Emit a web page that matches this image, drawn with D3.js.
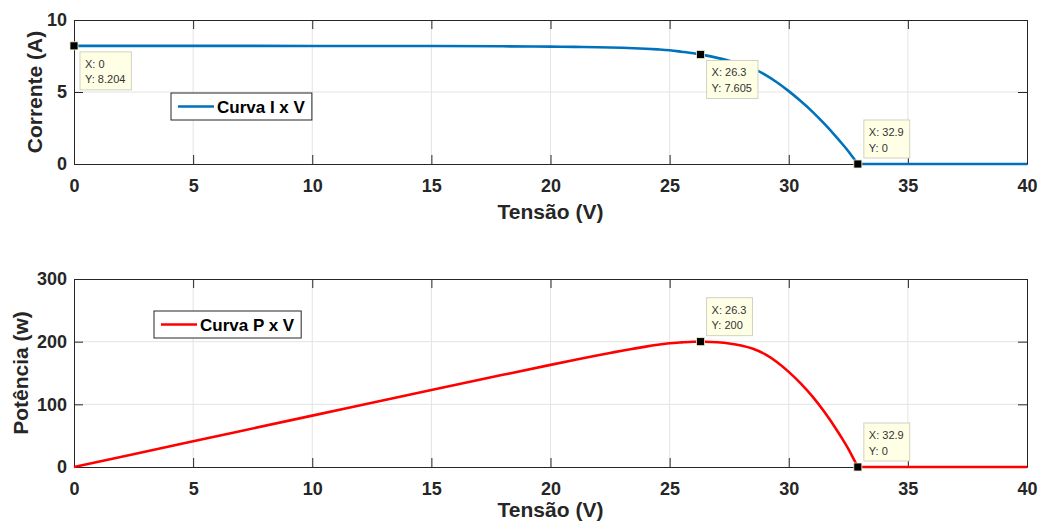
<!DOCTYPE html>
<html>
<head>
    <title>Curvas I x V e P x V</title>
    <script src="https://d3js.org/d3.v7.min.js"></script>
    <style>
        body {
            margin: 0;
            background: #fff;
            font-family: "Liberation Sans", Arial, sans-serif;
        }
        .tick text {
            font-size: 18px;
            font-weight: bold;
            fill: #262626;
        }
        .tick line, .domain {
            stroke: #262626;
        }
        .axis-label {
            font-size: 21px;
            font-weight: bold;
            fill: #262626;
        }
        .legend-text {
            font-size: 17px;
            font-weight: bold;
            fill: #000;
        }
        .tip-text {
            font-size: 11px;
            fill: #333;
        }
    </style>
</head>
<body>
    <div id="chart"></div>
    <script>
        // valores
        const tensao   = [0, 5, 10, 15, 18, 20, 21, 22, 22.5, 23, 23.5, 24, 24.5, 25, 25.5, 26, 26.3, 26.5, 27, 27.5, 28, 28.5, 29, 29.5, 30, 30.5, 31, 31.5, 32, 32.25, 32.5, 32.7, 32.9, 33, 35, 40];
        const corrente = [8.204, 8.202, 8.198, 8.19, 8.172, 8.15, 8.132, 8.107, 8.09, 8.068, 8.04, 8.005, 7.96, 7.90, 7.80, 7.69, 7.605, 7.545, 7.37, 7.17, 6.93, 6.62, 6.21, 5.68, 5.06, 4.37, 3.62, 2.78, 1.87, 1.39, 0.89, 0.45, 0, 0, 0, 0];
        const potencia = [0, 41.0, 82.0, 122.9, 147.1, 163.0, 170.8, 178.4, 182.0, 185.6, 188.9, 192.1, 195.0, 197.5, 198.9, 199.9, 200.0, 199.9, 199.0, 197.2, 194.0, 188.7, 180.1, 167.6, 151.8, 133.3, 112.2, 87.6, 59.8, 44.8, 28.9, 14.7, 0, 0, 0, 0];

        const xTicks = [0, 5, 10, 15, 20, 25, 30, 35, 40];
        const yTicksI = [0, 5, 10];
        const yTicksP = [0, 100, 200, 300];

        const tipsI = [{ x: 0, y: 8.204 }, { x: 26.3, y: 7.605 }, { x: 32.9, y: 0 }];
        const tipsP = [{ x: 26.3, y: 200 }, { x: 32.9, y: 0 }];

        const width = 1043, height = 525;
        const left = 74, right = 1027;

        const svg = d3.select("#chart")
            .append("svg")
            .attr("width", width)
            .attr("height", height);

        const x = d3.scaleLinear().domain([0, 40]).range([left, right]);

        function drawPanel(opts) {
            const y = d3.scaleLinear().domain(opts.yDomain).range([opts.bottom, opts.top]);
            const g = svg.append("g");

            // grid
            g.selectAll(".gx")
                .data(xTicks.slice(1, -1))
                .enter()
                .append("line")
                .attr("x1", d => x(d)).attr("x2", d => x(d))
                .attr("y1", opts.top).attr("y2", opts.bottom)
                .attr("stroke", "#e3e3e3");
            g.selectAll(".gy")
                .data(opts.yTicks.slice(1, -1))
                .enter()
                .append("line")
                .attr("x1", left).attr("x2", right)
                .attr("y1", d => y(d)).attr("y2", d => y(d))
                .attr("stroke", "#e3e3e3");

            // eixos (ticks para dentro, caixa fechada)
            g.append("g")
                .attr("transform", `translate(0,${opts.bottom})`)
                .call(d3.axisBottom(x).tickValues(xTicks).tickSize(-9).tickSizeOuter(0).tickPadding(15));
            g.append("g")
                .attr("transform", `translate(0,${opts.top})`)
                .call(d3.axisTop(x).tickValues(xTicks).tickSize(-9).tickSizeOuter(0).tickFormat(""));
            g.append("g")
                .attr("transform", `translate(${left},0)`)
                .call(d3.axisLeft(y).tickValues(opts.yTicks).tickSize(-9).tickSizeOuter(0).tickPadding(7));
            g.append("g")
                .attr("transform", `translate(${right},0)`)
                .call(d3.axisRight(y).tickValues(opts.yTicks).tickSize(-9).tickSizeOuter(0).tickFormat(""));

            // labels
            g.append("text")
                .attr("class", "axis-label")
                .attr("x", (left + right) / 2)
                .attr("y", opts.bottom + opts.xLabelDy)
                .attr("text-anchor", "middle")
                .text("Tensão (V)");
            g.append("text")
                .attr("class", "axis-label")
                .attr("transform", `translate(${opts.yLabelX},${(opts.top + opts.bottom) / 2}) rotate(-90)`)
                .attr("text-anchor", "middle")
                .text(opts.yLabel);

            // curva: parte curva suavizada, trecho em zero reto
            const pts = tensao.map((v, i) => [v, opts.values[i]]);
            const k = pts.findIndex(p => p[1] === 0 && p[0] > 0);
            const smooth = d3.line()
                .x(d => x(d[0]))
                .y(d => y(d[1]))
                .curve(d3.curveMonotoneX);
            const straight = d3.line()
                .x(d => x(d[0]))
                .y(d => y(d[1]));
            g.append("path")
                .attr("fill", "none")
                .attr("stroke", opts.color)
                .attr("stroke-width", 2.6)
                .attr("stroke-linejoin", "round")
                .attr("d", smooth(pts.slice(0, k + 1)) + straight(pts.slice(k)).replace("M", "L"));

            // legenda
            const lg = g.append("g").attr("transform", `translate(${opts.legend[0]},${opts.legend[1]})`);
            const lgText = lg.append("text")
                .attr("class", "legend-text")
                .attr("x", 46)
                .attr("y", 19.5)
                .text(opts.legendText);
            const tw = lgText.node().getComputedTextLength();
            lg.insert("rect", "text")
                .attr("width", tw + 53)
                .attr("height", 27)
                .attr("fill", "#fff")
                .attr("stroke", "#262626")
                .attr("stroke-width", 1);
            lg.append("line")
                .attr("x1", 7).attr("x2", 43)
                .attr("y1", 13.5).attr("y2", 13.5)
                .attr("stroke", opts.color)
                .attr("stroke-width", 2.6);

            // data tips
            opts.tips.forEach((t, i) => {
                const px = x(t.x), py = y(t.y);
                const below = opts.tipBelow[i];
                const tg = g.append("g");
                const by = below ? py + 6 : py - 44;
                const t1 = tg.append("text").attr("class", "tip-text")
                    .attr("x", px + 11).attr("y", by + 16).text("X: " + t.x);
                const t2 = tg.append("text").attr("class", "tip-text")
                    .attr("x", px + 11).attr("y", by + 31.5).text("Y: " + t.y);
                const w = Math.max(t1.node().getComputedTextLength(), t2.node().getComputedTextLength()) + 11;
                tg.insert("rect", "text")
                    .attr("x", px + 6).attr("y", by)
                    .attr("width", w).attr("height", 38)
                    .attr("fill", "#ffffe6")
                    .attr("stroke", "#d2d2c0")
                    .attr("stroke-width", 1);
                g.append("rect")
                    .attr("x", px - 4).attr("y", py - 4)
                    .attr("width", 8).attr("height", 8)
                    .attr("fill", "#000")
                    .attr("stroke", "#f0f0c8")
                    .attr("stroke-width", 0.8);
            });
        }

        drawPanel({
            top: 20, bottom: 164,
            yDomain: [0, 10], yTicks: yTicksI,
            yLabel: "Corrente (A)", yLabelX: 42, xLabelDy: 55,
            values: corrente, color: "#0072BD",
            legend: [171, 93], legendText: "Curva I x V",
            tips: tipsI, tipBelow: [true, true, false]
        });

        drawPanel({
            top: 279, bottom: 467,
            yDomain: [0, 300], yTicks: yTicksP,
            yLabel: "Potência (w)", yLabelX: 28, xLabelDy: 50,
            values: potencia, color: "#FF0000",
            legend: [154, 311], legendText: "Curva P x V",
            tips: tipsP, tipBelow: [false, false]
        });
    </script>
</body>
</html>
